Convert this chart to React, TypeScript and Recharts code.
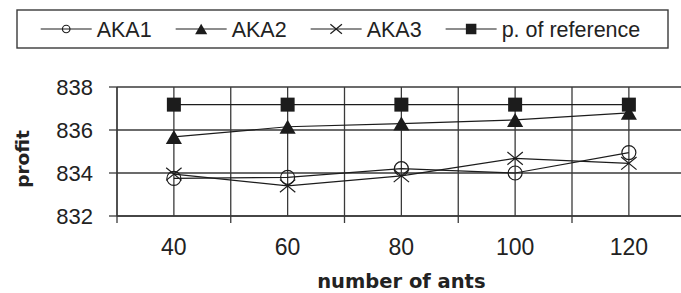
import React from "react";
import { LineChart, Line, XAxis, YAxis, CartesianGrid, Legend, Label } from "recharts";

// ---- data ----
const antCounts = [40, 60, 80, 100, 120];
const xBoundaries = [30, 50, 70, 90, 110, 130];
const aka1 = [833.75, 833.8, 834.2, 834.0, 834.95];
const aka2 = [835.68, 836.15, 836.3, 836.47, 836.8];
const aka3 = [833.95, 833.4, 833.87, 834.68, 834.45];
const reference = [837.18, 837.18, 837.18, 837.18, 837.18];
const yTicks = [832, 834, 836, 838];
const seriesNames = ["AKA1", "AKA2", "AKA3", "p. of reference"];
const xTitle = "number of ants";
const yTitle = "profit";

const data = antCounts.map((x, i) => ({
  x,
  aka1: aka1[i],
  aka2: aka2[i],
  aka3: aka3[i],
  reference: reference[i],
}));

const allXTicks = [...xBoundaries, ...antCounts].sort((a, b) => a - b);

const GRID = "#3a3a3a";
const LINE = "#1c1c1c";
const TEXT = "#222";
const SANS = "'Liberation Sans', Arial, sans-serif";
const BOLD = "'DejaVu Sans', Verdana, sans-serif";

type Kind = "circle" | "triangle" | "cross" | "square";
const kinds: Record<string, Kind> = {
  aka1: "circle",
  aka2: "triangle",
  aka3: "cross",
  reference: "square",
};

function Marker({ kind, cx, cy, s }: { kind: Kind; cx: number; cy: number; s: number }) {
  if (cx == null || cy == null || isNaN(cx) || isNaN(cy)) return null;
  if (kind === "circle") {
    return <circle cx={cx} cy={cy} r={s * 0.5} fill="none" stroke={LINE} strokeWidth={1.2} />;
  }
  if (kind === "triangle") {
    const w = s * 1.15;
    const h = s;
    return (
      <polygon
        points={`${cx},${cy - h / 2} ${cx + w / 2},${cy + h / 2} ${cx - w / 2},${cy + h / 2}`}
        fill={LINE}
      />
    );
  }
  if (kind === "cross") {
    const w = s * 0.55;
    const h = s * 0.45;
    return (
      <g stroke={LINE} strokeWidth={1.2}>
        <line x1={cx - w} y1={cy - h} x2={cx + w} y2={cy + h} />
        <line x1={cx - w} y1={cy + h} x2={cx + w} y2={cy - h} />
      </g>
    );
  }
  return <rect x={cx - s / 2} y={cy - s / 2} width={s} height={s} fill={LINE} />;
}

const makeDot = (key: string) => (props: any) => (
  <Marker key={`${key}-${props.index}`} kind={kinds[key]} cx={props.cx} cy={props.cy} s={14} />
);

// char widths (em) for Arial / Liberation Sans
const cw: Record<string, number> = {
  A: 0.667, K: 0.667, "1": 0.556, "2": 0.556, "3": 0.556, p: 0.556, ".": 0.278, " ": 0.278,
  o: 0.556, f: 0.278, r: 0.333, e: 0.556, n: 0.556, c: 0.5,
};
const textWidth = (t: string, size: number) =>
  t.split("").reduce((s, ch) => s + (cw[ch] ?? 0.556), 0) * size;

const renderLegend = (props: any) => {
  const payload = props.payload || [];
  const fs = 21.5;
  let x = 40.7;
  const items = payload.map((p: any, i: number) => {
    const lineStart = x;
    const lineEnd = x + 51;
    const textX = lineEnd + 5;
    const name = String(p.value);
    const w = textWidth(name, fs);
    x = textX + w + 24;
    const key = String(p.dataKey);
    return (
      <g key={i}>
        <line x1={lineStart} y1={29} x2={lineEnd} y2={29} stroke={LINE} strokeWidth={1.2} />
        <Marker kind={kinds[key]} cx={(lineStart + lineEnd) / 2} cy={29} s={kinds[key] === "circle" ? 7.5 : 10.5} />
        <text x={textX} y={36.7} fontFamily={SANS} fontSize={fs} fill={TEXT}>
          {name}
        </text>
      </g>
    );
  });
  return (
    <svg width={681} height={60} style={{ display: "block" }}>
      <rect x={17} y={10} width={651} height={38} fill="none" stroke={GRID} strokeWidth={1.4} />
      {items}
    </svg>
  );
};

const YTick = (props: any) => (
  <text x={props.x} y={props.y + 8} textAnchor="end" fontFamily={SANS} fontSize={22} fill={TEXT}>
    {props.payload.value}
  </text>
);

const XTick = (props: any) => {
  const v = props.payload.value;
  if (xBoundaries.includes(v)) {
    return <line x1={props.x} y1={props.y} x2={props.x} y2={props.y + 7} stroke={GRID} strokeWidth={1.3} />;
  }
  return (
    <text x={props.x} y={props.y + 39} textAnchor="middle" fontFamily={SANS} fontSize={23} fill={TEXT}>
      {v}
    </text>
  );
};

export default function App() {
  return (
    <div style={{ position: "absolute", left: 0, top: 0, width: 681, height: 293, overflow: "hidden", background: "#fff" }}>
      <LineChart width={700} height={293} data={data} margin={{ top: 87, right: 14.25, bottom: 0, left: 0 }}>
        <CartesianGrid stroke={GRID} strokeWidth={1.3} />
        <XAxis
          dataKey="x"
          type="number"
          domain={[30, 130]}
          ticks={allXTicks}
          interval={0}
          height={77}
          tickSize={0}
          tickMargin={0}
          tickLine={false}
          axisLine={{ stroke: GRID, strokeWidth: 1.3 }}
          tick={<XTick />}
        >
          <Label
            content={(p: any) => {
              const vb = p.viewBox || {};
              const cx = (vb.x ?? 117) + (vb.width ?? 568.75) / 2;
              return (
                <text x={cx} y={287.5} textAnchor="middle" fontFamily={BOLD} fontWeight="bold" fontSize={19.5} fill={TEXT}>
                  {xTitle}
                </text>
              );
            }}
          />
        </XAxis>
        <YAxis
          type="number"
          domain={[832, 838]}
          ticks={yTicks}
          width={117}
          tickSize={8}
          tickMargin={16}
          tickLine={{ stroke: GRID, strokeWidth: 1.3 }}
          axisLine={{ stroke: GRID, strokeWidth: 1.3 }}
          tick={<YTick />}
        >
          <Label
            content={() => (
              <text
                x={29}
                y={159}
                textAnchor="middle"
                transform="rotate(-90, 29, 159)"
                fontFamily={BOLD}
                fontWeight="bold"
                fontSize={18.5}
                fill={TEXT}
              >
                {yTitle}
              </text>
            )}
          />
        </YAxis>
        <Legend
          content={renderLegend}
          layout="horizontal"
          verticalAlign="middle"
          align="center"
          wrapperStyle={{ top: 0, left: 0, width: 681, height: 60 }}
        />
        <Line dataKey="aka1" name={seriesNames[0]} stroke={LINE} strokeWidth={1.2} dot={makeDot("aka1")} isAnimationActive={false} />
        <Line dataKey="aka2" name={seriesNames[1]} stroke={LINE} strokeWidth={1.2} dot={makeDot("aka2")} isAnimationActive={false} />
        <Line dataKey="aka3" name={seriesNames[2]} stroke={LINE} strokeWidth={1.2} dot={makeDot("aka3")} isAnimationActive={false} />
        <Line dataKey="reference" name={seriesNames[3]} stroke={LINE} strokeWidth={1.2} dot={makeDot("reference")} isAnimationActive={false} />
      </LineChart>
    </div>
  );
}
